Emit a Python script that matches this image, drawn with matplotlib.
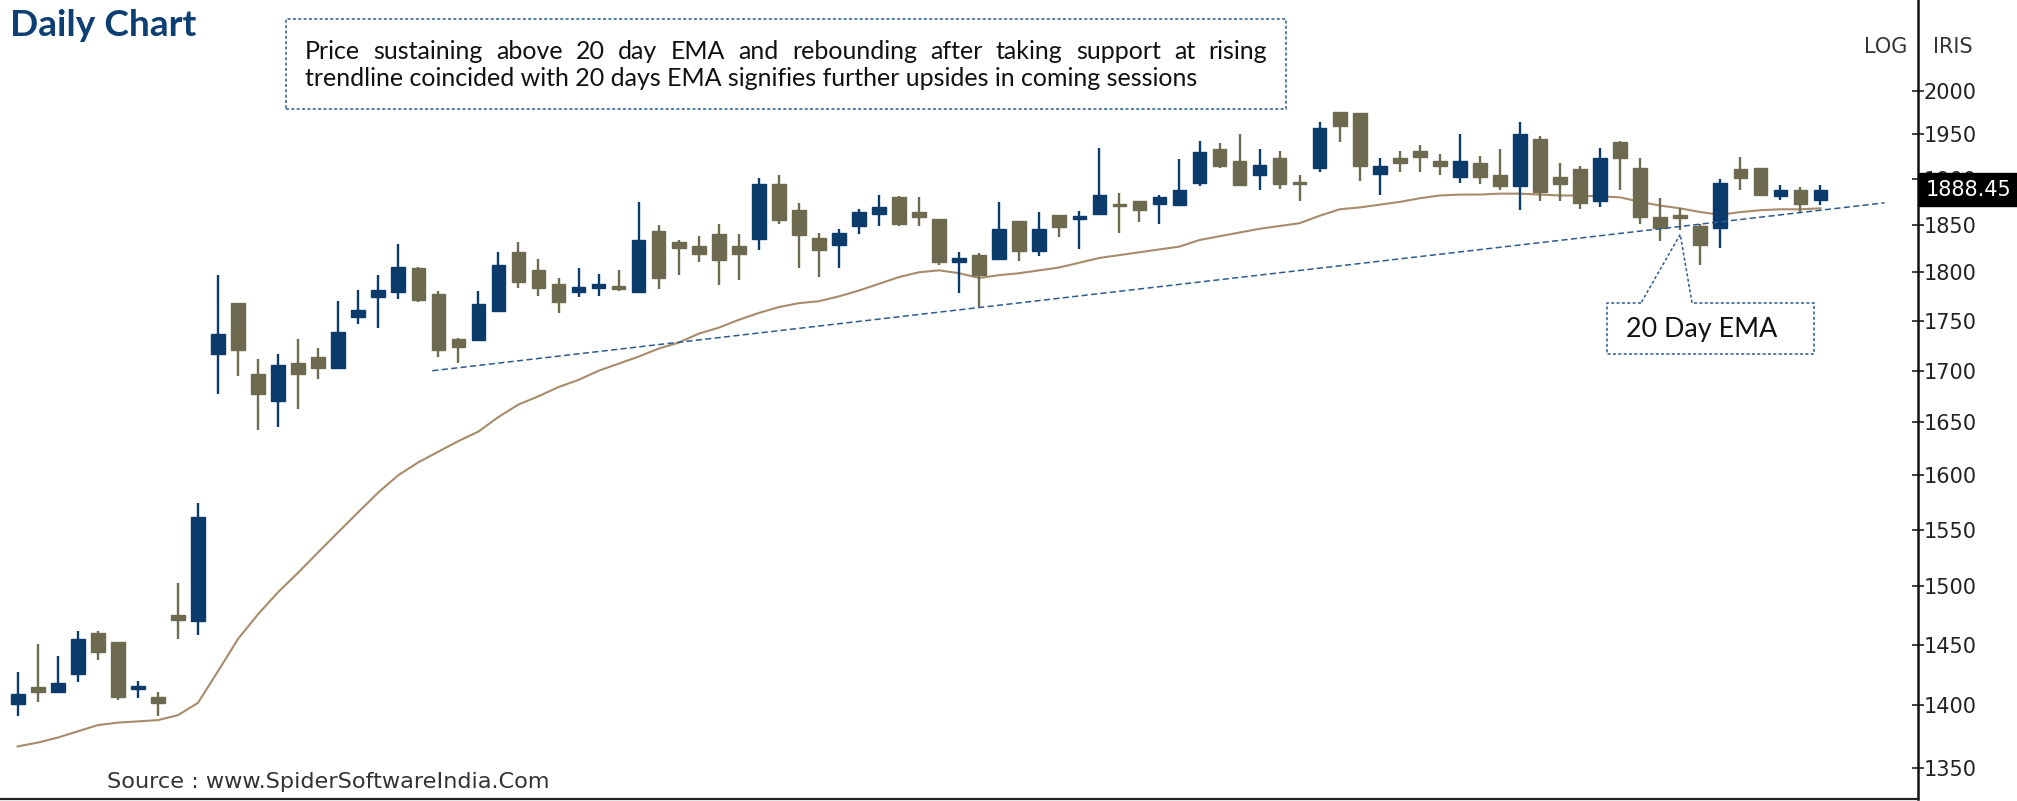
import numpy as np
import matplotlib
matplotlib.use("Agg")
import matplotlib.pyplot as plt
from matplotlib.lines import Line2D
from matplotlib.patches import Rectangle
from matplotlib.ticker import FixedLocator, FixedFormatter, NullLocator
from matplotlib.transforms import blended_transform_factory

# daily OHLC, one entry per session
opens = [1401, 1415, 1411, 1426, 1460, 1452, 1413, 1407, 1475, 1470,
         1717, 1768, 1697, 1670, 1708, 1714, 1703, 1754, 1774, 1779,
         1804, 1777, 1732, 1731, 1760, 1821, 1802, 1788, 1779, 1784,
         1786, 1779, 1844, 1832, 1828, 1840, 1828, 1835, 1895, 1866,
         1836, 1829, 1849, 1862, 1880, 1864, 1857, 1811, 1818, 1814,
         1854, 1822, 1861, 1856, 1862, 1873, 1876, 1873, 1872, 1896,
         1933, 1920, 1904, 1923, 1897, 1912, 1976, 1974, 1906, 1923,
         1931, 1920, 1902, 1918, 1904, 1892, 1945, 1902, 1911, 1876,
         1941, 1912, 1859, 1861, 1849, 1847, 1911, 1912, 1881, 1888,
         1877]
highs = [1427, 1451, 1441, 1462, 1462, 1452, 1420, 1411, 1503, 1574,
         1797, 1768, 1712, 1717, 1732, 1723, 1770, 1782, 1797, 1830,
         1805, 1781, 1733, 1781, 1821, 1832, 1814, 1794, 1804, 1798,
         1802, 1875, 1850, 1834, 1838, 1851, 1840, 1901, 1905, 1874,
         1841, 1846, 1867, 1882, 1881, 1880, 1857, 1821, 1820, 1875,
         1854, 1864, 1861, 1865, 1935, 1885, 1876, 1883, 1922, 1943,
         1940, 1950, 1933, 1931, 1904, 1964, 1976, 1974, 1923, 1931,
         1938, 1928, 1950, 1926, 1933, 1964, 1948, 1918, 1915, 1935,
         1943, 1923, 1879, 1868, 1851, 1900, 1925, 1912, 1893, 1891,
         1893]
lows = [1391, 1403, 1411, 1419, 1437, 1404, 1406, 1391, 1455, 1458,
        1677, 1695, 1643, 1645, 1663, 1692, 1702, 1747, 1743, 1772,
        1769, 1714, 1708, 1730, 1760, 1784, 1775, 1758, 1774, 1775,
        1781, 1778, 1783, 1797, 1811, 1787, 1792, 1823, 1851, 1804,
        1795, 1804, 1840, 1849, 1849, 1849, 1808, 1778, 1764, 1814,
        1812, 1817, 1837, 1824, 1862, 1841, 1853, 1851, 1871, 1892,
        1912, 1892, 1888, 1889, 1876, 1908, 1941, 1898, 1883, 1908,
        1908, 1904, 1896, 1895, 1888, 1866, 1876, 1876, 1867, 1870,
        1888, 1851, 1833, 1845, 1808, 1826, 1888, 1882, 1877, 1863,
        1872]
closes = [1409, 1411, 1418, 1455, 1444, 1407, 1416, 1402, 1471, 1562,
          1737, 1721, 1677, 1706, 1697, 1703, 1739, 1761, 1782, 1805,
          1771, 1721, 1724, 1767, 1808, 1790, 1784, 1769, 1785, 1788,
          1783, 1834, 1794, 1826, 1819, 1813, 1819, 1895, 1855, 1839,
          1823, 1841, 1864, 1869, 1851, 1859, 1811, 1815, 1797, 1846,
          1822, 1846, 1848, 1860, 1882, 1871, 1866, 1880, 1888, 1930,
          1914, 1894, 1916, 1895, 1895, 1957, 1960, 1914, 1915, 1918,
          1925, 1915, 1920, 1902, 1892, 1950, 1886, 1895, 1874, 1923,
          1923, 1859, 1847, 1858, 1829, 1896, 1901, 1883, 1888, 1873,
          1888.45]

# 20 day EMA as plotted
ema20 = [1367, 1370, 1374, 1379, 1384, 1386, 1387, 1388, 1392, 1402,
         1428, 1455, 1476, 1495, 1512, 1530, 1548, 1566, 1584, 1600,
         1612, 1622, 1632, 1641, 1655, 1667, 1675, 1684, 1691, 1700,
         1707, 1714, 1722, 1728, 1737, 1743, 1751, 1758, 1764, 1768,
         1770, 1775, 1781, 1788, 1795, 1800, 1802, 1799, 1794, 1797,
         1799, 1802, 1805, 1810, 1815, 1818, 1821, 1824, 1827, 1834,
         1838, 1842, 1846, 1849, 1852, 1860, 1867, 1869, 1872, 1875,
         1879, 1882, 1883, 1883, 1884, 1884, 1883, 1882, 1882, 1881,
         1880, 1875, 1871, 1868, 1864, 1861, 1864, 1866, 1867, 1867,
         1868]

# rising trendline drawn through the lows
trend_x = [21.7, 94.2]
trend_y = [1700, 1874]

price_ticks = [1350, 1400, 1450, 1500, 1550, 1600, 1650, 1700, 1750,
               1800, 1850, 1900, 1950, 2000]
last_price = 1888.45

BLUE = "#0b3b6b"
OLIVE = "#6d6a4f"
NAVY = "#0e3f72"
DASH = "#2c5c8e"

W, H = 2017, 801
fig = plt.figure(figsize=(W / 100, H / 100), dpi=100)
fig.patch.set_facecolor("white")
ax = fig.add_axes([0, 2 / H, 1917.6 / W, (H - 2) / H])

o = np.array(opens, dtype=float)
h = np.array(highs, dtype=float)
l = np.array(lows, dtype=float)
c = np.array(closes, dtype=float)
x = np.arange(1, len(o) + 1)
cols = np.where(c >= o, BLUE, OLIVE)

ax.plot(x, ema20, color="#a68c6a", lw=1.5, zorder=1)
ax.vlines(x, l, h, colors=cols, lw=1.7, zorder=2)
ax.bar(x, np.abs(c - o), bottom=np.minimum(o, c), width=0.68,
       color=cols, edgecolor=cols, linewidth=1, zorder=3)
ax.plot(trend_x, trend_y, color=DASH, lw=1.1, ls=(0, (4, 2.2)), zorder=4)

ax.set_yscale("log")
ax.set_xlim(0.116, 95.85)
ax.set_ylim(1325.9, 2108.1)
ax.yaxis.set_major_locator(FixedLocator(price_ticks))
ax.yaxis.set_major_formatter(FixedFormatter([str(t) for t in price_ticks]))
ax.yaxis.set_minor_locator(NullLocator())
ax.yaxis.tick_right()
ax.tick_params(axis="y", direction="inout", length=9, width=1.2, pad=0,
               labelsize=15, labelcolor="#222222", colors="#222222")
ax.set_xticks([])
for side in ["left", "top"]:
    ax.spines[side].set_visible(False)
ax.spines["right"].set_linewidth(1.8)
ax.spines["right"].set_color("#111111")
ax.spines["bottom"].set_linewidth(1.6)
ax.spines["bottom"].set_color("#222222")

# last traded price tag on the axis
ax.text(1.0 + 8 / 1917.6, last_price, "1888.45",
        transform=blended_transform_factory(ax.transAxes, ax.transData),
        ha="left", va="center", fontsize=15, color="white",
        bbox=dict(boxstyle="square,pad=0.3", fc="black", ec="black"),
        zorder=10, clip_on=False)

renderer = fig.canvas.get_renderer()


def fx(px):
    return px / W


def fy(py):
    return 1 - py / H


def fit_text(px, py, s, width, ha="left", size=20, **kw):
    t = fig.text(fx(px), fy(py), s, ha=ha, va="center", fontsize=size, **kw)
    w = t.get_window_extent(renderer).width
    t.set_fontsize(size * width / w)
    return t


fit_text(10, 26, "Daily Chart", 186, family="Lato", weight="bold", color=NAVY)

# commentary box
fig.add_artist(Rectangle((fx(285.6), fy(109.3)), fx(1286 - 285.6), (109.3 - 19.3) / H,
                         transform=fig.transFigure, fill=False, ec=DASH,
                         lw=1.1, ls=(0, (2, 1.5))))
line1 = "Price sustaining above 20 day EMA and rebounding after taking support at rising"
line2 = "trendline coincided with 20 days EMA signifies further upsides in coming sessions"
t2 = fit_text(305, 78.5, line2, 898, family="Lato", color="#111111")
body_size = t2.get_fontsize()

# first line is justified across the box
words = line1.split()
word_w = []
for wd in words:
    t = fig.text(0, 0, wd, fontsize=body_size, family="Lato")
    word_w.append(t.get_window_extent(renderer).width)
    t.remove()
gap = (1267 - 305 - sum(word_w)) / (len(words) - 1)
cx = 305
for wd, ww in zip(words, word_w):
    fig.text(fx(cx), fy(51.5), wd, ha="left", va="center", fontsize=body_size,
             family="Lato", color="#111111")
    cx += ww + gap

fit_text(107, 782, "Source : www.SpiderSoftwareIndia.Com", 442,
         family="DejaVu Sans", color="#333333")
fig.text(fx(1907), fy(47), "LOG", ha="right", va="center", fontsize=15, color="#333333")
fig.text(fx(1933), fy(47), "IRIS", ha="left", va="center", fontsize=15, color="#333333")

# callout for the EMA
tip = ax.transData.transform((84.0, 1840))
tip_px = (tip[0], H - tip[1])
pts = [(1641, 303), (1607, 303), (1607, 354), (1814, 354), (1814, 303),
       (1692, 303), tip_px, (1641, 303)]
fig.add_artist(Line2D([fx(p[0]) for p in pts], [fy(p[1]) for p in pts],
                      transform=fig.transFigure, color=DASH, lw=1.1,
                      ls=(0, (2, 1.5))))
fit_text(1702, 329, "20 Day EMA", 151, ha="center", family="Lato", color="#111111")

fig.savefig("out.png", dpi=100, facecolor="white")
